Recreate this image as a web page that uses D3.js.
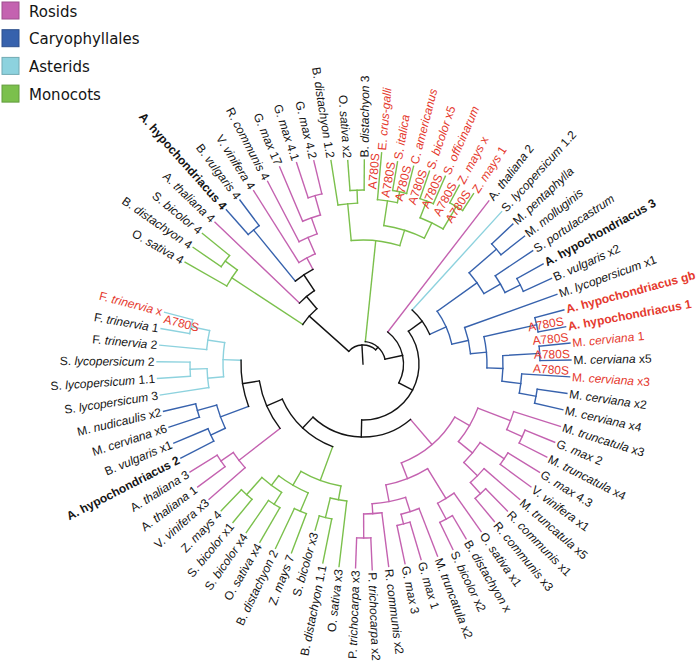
<!DOCTYPE html>
<html><head><meta charset="utf-8">
<script src="https://cdn.jsdelivr.net/npm/d3@7"></script>
<style>body{margin:0;background:#fff}</style>
</head><body><svg id="c" width="700" height="666"></svg>
<script>
// ---------- DATA ----------
const cladeKeys = ["R","C","A","M"];
const cladeNames = ["Rosids","Caryophyllales","Asterids","Monocots"];
const cladeColors = ["#c462b0","#3762ad","#8dd2de","#7bc04c"];

const leafNames = [
"O. sativa 4","B. distachyon 4","S. bicolor 4","A. thaliana 4","A. hypochondriacus 4","B. vulgaris 4","V. vinifera 4","R. communis 4","G. max 17","G. max 4.1","G. max 4.2",
"B. distachyon 1.2","O. sativa x2","B. distachyon 3","E. crus-galli","S. italica","C. americanus","S. bicolor x5","S. officinarum","Z. mays x","Z. mays 1",
"A. thaliana 2","S. lycopersicum 1.2",
"M. pentaphylla","M. molluginis","S. portulacastrum","A. hypochondriacus 3","B. vulgaris x2","M. lycopersicum x1","A. hypochondriacus gb","A. hypochondriacus 1","M. cerviana 1","M. cerviana x5","M. cerviana x3","M. cerviana x2","M. cerviana x4",
"M. truncatula x3","G. max 2","M. truncatula x4","G. max 4.3","V. vinifera x1","M. truncatula x5","R. communis x1","R. communis x3","O. sativa x1","B. distachyon x","S. bicolor x2","M. truncatula x2","G. max 1","G. max 3","R. communis x2","P. trichocarpa x2","P. trichocarpa x3",
"O. sativa x3","B. distachyon 1.1","S. bicolor x3","Z. mays 7","B. distachyon 2","O. sativa x4","S. bicolor x4","S. bicolor x1","Z. mays 4",
"V. vinifera x3","A. thaliana 1","A. thaliana 3",
"A. hypochondriacus 2","B. vulgaris x1","M. cerviana x6","M. nudicaulis x2",
"S. lycopersicum 3","S. lycopersicum 1.1","S. lycopersicum 2","F. trinervia 2","F. trinervia 1","F. trinervia x"
];
const leafClade = [
"M","M","M","R","C","C","R","R","R","R","R",
"M","M","M","M","M","M","M","M","M","M",
"R","A",
"C","C","C","C","C","C","C","C","C","C","C","C","C",
"R","R","R","R","R","R","R","R","R","R","R","R","R","R","R","R","R",
"M","M","M","M","M","M","M","M","M",
"R","R","R",
"C","C","C","C",
"A","A","A","A","A","A"
];
const leafParent = [
"G1","G2","G2","Q","BV","BV","P1","P2","P3","P4","P4",
"GA","GA2","GA2","GB1","GB1b","GB1b","GB2a","GB2a","GB2b","GB2b",
"T","U",
"B1a","B1a","B1b","B1c","B1c","B2","Pgb","Pgb","Pc","Pc","B3b","Pd","Pd",
"Ra1","Pa","Pa","Pv","Pv","Pm5","Prc","Prc","Po","Pbs","Pbs","Pm2","Pg","Pg","Pr","Pt","Pt",
"GG1","GG1b","GG1b","GG3","GG3","GG4a","GG4a","GG4b","GG4b",
"PL0","PL1","PL1",
"BLa","BLa","BLb","BLb",
"Ca","Ca2","Ca2","Cb","Cf","Cf"
];
const leafTip = [
205,206,207,205,206,205,205,206,214,212,209,
206,204,204,212,205,204,204,205,203,203,
206,206,
205,206,204,206,207,206,208,206,208,208,207,206,205,
207,207,206,207,208,207,206,205,205,203,206,206,204,204,204,206,204,
204,203,173,202,204,206,205,205,204,
205,206,204,
205,205,204,205,
205,206,206,204,205,205
];
const nodeIds    = ["root","TL","G1","G2","Q","P","BV","P1","P2","P3","P4","S","GT","GA","GA2","GB","GB1","GB1b","GB2","GB2a","GB2b","T","V","U","B","B1","B1a","B1b","B1c","B2","B3","Pgb","B4","Pc","B3b","Pd","W","R0","Ra","Ra1","Pa","Ra2","Pv","Pm5","Prc","Rb","Po","Pbs","Pq","Pm2","Pg","Pr","Pt","X","GG0","GG1","GG1b","GG2","GG3","GG4","GG4a","GG4b","Y","PL0","PL1","Z","BL0","BLa","BLb","C0","Ca","Ca2","Cb","Cf"];
const nodeParent = ["",    "root","TL","G1","TL","Q","P","P","P1","P2","P3","root","S","GT","GA","GT","GB","GB1","GB","GB2","GB2","S","T","V","U","B","B1","B1","B1b","B","B2","B3","B3","B4","B4","B3b","V","W","R0","Ra","Ra1","Ra","Ra2","Ra2","Pm5","R0","Rb","Po","Rb","Pq","Pm2","Pq","Pr","W","X","GG0","GG1","GG0","GG2","GG2","GG4","GG4","X","Y","PL0","Y","Z","BL0","BL0","Z","C0","Ca","C0","Cb"];
const nodeDepth  = [19,   72,   157, 172, 88,  107, 173, 120, 138, 155, 175, 22.5,  124, 161, 174, 140, 165, 176,  157, 175,  183,  40.5, 56, 73, 91, 140, 176, 159, 176, 108, 124, 178, 140, 177, 159, 176, 73, 106, 123, 158, 175, 141, 170, 160, 175, 123, 158, 176, 140, 155, 165, 150, 174, 88, 124, 138, 158, 140, 160, 152, 166, 175, 105, 157, 172, 122, 152, 168, 172, 140, 156, 173, 157, 176];

const redLabels = ["E. crus-galli","S. italica","C. americanus","S. bicolor x5","S. officinarum","Z. mays x","Z. mays 1","A. hypochondriacus gb","A. hypochondriacus 1","M. cerviana 1","M. cerviana x3","F. trinervia x"];
const boldLabels = ["A. hypochondriacus 4","A. hypochondriacus 3","A. hypochondriacus gb","A. hypochondriacus 1","A. hypochondriacus 2"];
const mutationLeaves = ["E. crus-galli","S. italica","C. americanus","S. bicolor x5","S. officinarum","Z. mays x","Z. mays 1","A. hypochondriacus 1","M. cerviana 1","M. cerviana x5","M. cerviana x3","F. trinervia x"];
const mutationText = "A780S";

// ---------- LAYOUT ----------
const svg = d3.select("#c");
const cx = 363, cy = 364;
const angle = d3.scaleLinear().domain([0, leafNames.length - 1]).range([299.8, 644.6]);
const rad = d3.scaleLinear().domain([0, 205]).range([0, 205]);
const cladeColor = d3.scaleOrdinal().domain(cladeKeys).range(cladeColors);
const RED = "#e5392e", INK = "#141414";

const rows = [];
nodeIds.forEach((id, i) => rows.push({id, parent: nodeParent[i] || null, depth: nodeDepth[i]}));
leafNames.forEach((n, i) => rows.push({id: n, parent: leafParent[i], depth: leafTip[i], leaf: i}));
const root = d3.stratify().id(d => d.id).parentId(d => d.parent)(rows);

root.eachAfter(n => {
  if (!n.children) {
    n.theta = angle(n.data.leaf);
    n.clades = new Set([leafClade[n.data.leaf]]);
  } else {
    n.children.sort((a, b) => a.theta - b.theta);
    n.theta = (n.children[0].theta + n.children[n.children.length - 1].theta) / 2;
    n.clades = new Set();
    n.children.forEach(c => c.clades.forEach(k => n.clades.add(k)));
  }
  n.r = rad(n.data.depth);
  n.color = n.clades.size === 1 ? cladeColor([...n.clades][0]) : INK;
});

function pt(theta, r) {
  const a = (theta - 90) * Math.PI / 180;
  return [cx + r * Math.cos(a), cy + r * Math.sin(a)];
}

const gTree = svg.append("g").attr("fill", "none").attr("stroke-width", 1.4).attr("stroke-linecap", "square");

// root stem
gTree.append("path")
  .attr("d", d3.line()([pt(root.theta, 0), pt(root.theta, root.r)]))
  .attr("stroke", INK);

// radial segments
gTree.selectAll("path.rad").data(root.descendants().filter(d => d.parent)).join("path")
  .attr("class", "rad")
  .attr("d", d => d3.line()([pt(d.theta, d.parent.r), pt(d.theta, d.r)]))
  .attr("stroke", d => d.color);

// arcs
gTree.selectAll("path.arc").data(root.descendants().filter(d => d.children)).join("path")
  .attr("class", "arc")
  .attr("d", d => {
    const p = d3.path();
    const a0 = (d.children[0].theta - 90) * Math.PI / 180;
    const a1 = (d.children[d.children.length - 1].theta - 90) * Math.PI / 180;
    p.arc(cx, cy, d.r, a0, a1, false);
    return p.toString();
  })
  .attr("stroke", d => d.color);

// labels
const gLab = svg.append("g").attr("font-family", "'Liberation Sans', Arial, sans-serif").attr("font-size", 12);
root.leaves().forEach(n => {
  const name = n.data.id;
  const th = ((n.theta % 360) + 360) % 360;
  const left = th > 180;
  const isRed = redLabels.includes(name), isBold = boldLabels.includes(name);
  const g = gLab.append("g")
    .attr("transform", `translate(${cx},${cy}) rotate(${n.theta - 90}) translate(${n.r + 2.5},0)` + (left ? " rotate(180)" : ""));
  const t = g.append("text")
    .attr("dy", "0.35em")
    .attr("text-anchor", left ? "end" : "start")
    .attr("fill", isRed ? RED : INK)
    .attr("font-weight", isBold ? "bold" : null);
  const parts = name.split(" ");
  t.append("tspan").text(parts[0] + " ");
  t.append("tspan").attr("font-style", isBold ? null : "italic").text(parts[1]);
  if (parts.length > 2) t.append("tspan").text(" " + parts.slice(2).join(" "));

  if (mutationLeaves.includes(name)) {
    const gm = gLab.append("g")
      .attr("transform", `translate(${cx},${cy}) rotate(${n.theta - 90}) translate(${n.r - 1},0)` + (left ? " rotate(180)" : ""));
    gm.append("text")
      .attr("text-anchor", left ? "start" : "end")
      .attr("dy", left ? 10.5 : -2)
      .attr("fill", RED)
      .text(mutationText);
  }
});

// legend
const gLeg = svg.append("g").attr("font-family", "'DejaVu Sans', Verdana, sans-serif").attr("font-size", 15);
cladeNames.forEach((nm, i) => {
  const y = 2 + i * 27.7;
  gLeg.append("rect").attr("x", 2).attr("y", y).attr("width", 17).attr("height", 17)
    .attr("fill", cladeColors[i]).attr("stroke", d3.color(cladeColors[i]).darker(0.6)).attr("stroke-width", 1);
  gLeg.append("text").attr("x", 29).attr("y", y + 14.5).attr("fill", INK).text(nm);
});
</script>
</body></html>
